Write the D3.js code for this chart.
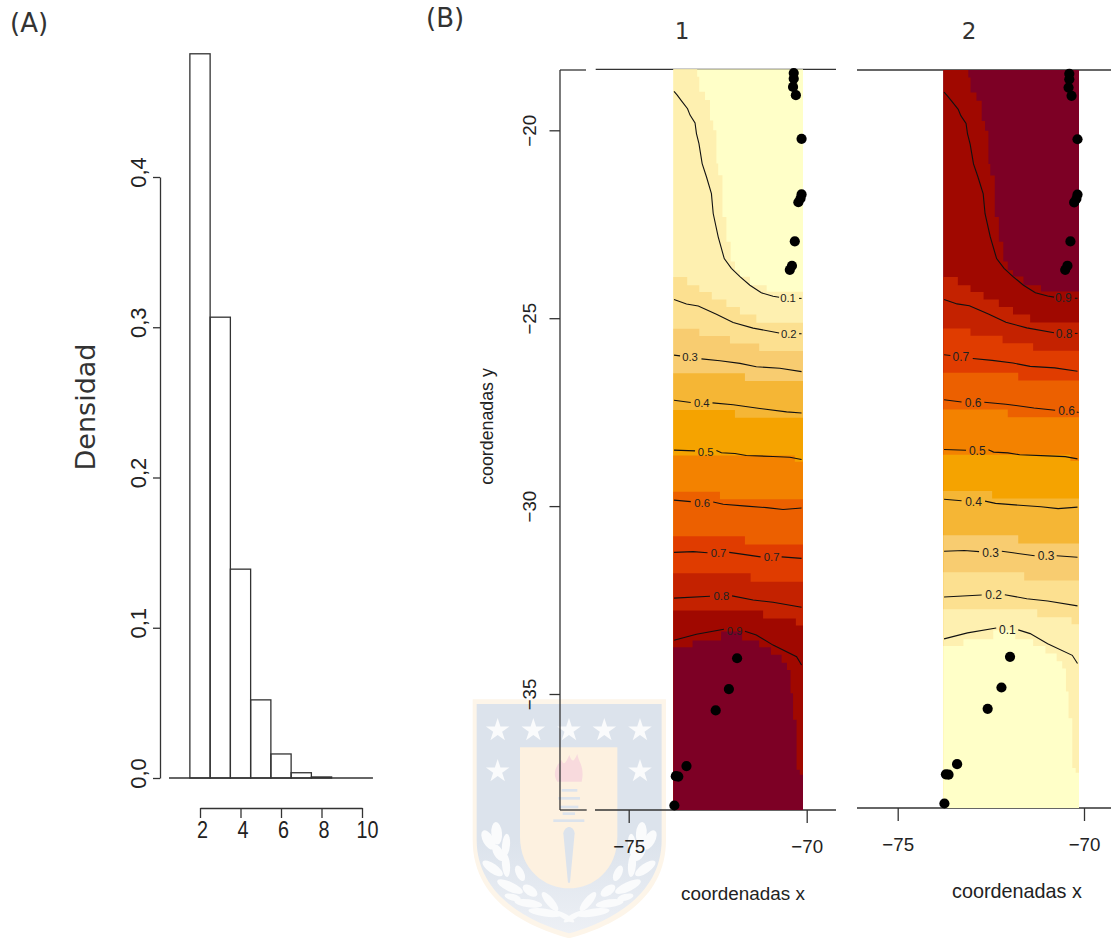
<!DOCTYPE html>
<html lang="en">
<head>
    <meta charset="UTF-8">
    <title>Densidad y coordenadas</title>
    <script src="https://d3js.org/d3.v7.min.js"></script>
    <style>
        body { margin: 0; background: #fff; }
        svg { display: block; font-family: "Liberation Sans", Arial, sans-serif; }
        .axis path, .axis line, .frame { stroke: #333; stroke-width: 1.3; fill: none; }
        .axis text { fill: #222; font-size: 18.7px; }
        .serif-ish { font-family: "DejaVu Sans", sans-serif; fill: #333; }
    </style>
</head>
<body>
    <div id="chart"></div>

    <script>
        // Histogram (A)
        const histBreaks = [1.5, 2.5, 3.5, 4.5, 5.5, 6.5, 7.5, 8.5];
        const histDensity = [0.482, 0.3067, 0.139, 0.052, 0.016, 0.0035, 0.0007];
        const histXTicks = [2, 4, 6, 8, 10];
        const histYTicks = [0, 0.1, 0.2, 0.3, 0.4];

        // Maps (B)
        const mapXTicks = [-75, -70];
        const mapYTicks = [-20, -25, -30, -35];
        const lonLimits = [-73.74, -70.1];
        const latLimits = [-18.37, -38.09];
        const bandColors = ["#FFFFC8", "#FEF0B0", "#FCE090", "#F8CC70", "#F5B635", "#F5A300",
            "#F38200", "#EC6000", "#E03C00", "#C42200", "#A00800", "#7D0025"];

        // Stepped edges between colour bands, [lon, lat]
        const bandEdges = [
            [[-73.74, -18.37], [-73.07, -18.37], [-73.01, -18.57], [-72.85, -18.97], [-72.71, -19.19], [-72.62, -19.73], [-72.53, -19.99], [-72.48, -20.88], [-72.36, -21.19], [-72.25, -22.30], [-72.13, -22.96], [-72.01, -23.49], [-71.87, -23.72], [-71.59, -23.89], [-71.12, -24.12], [-70.89, -24.29], [-70.10, -24.29]],
            [[-73.74, -23.90], [-73.35, -23.90], [-73.01, -24.12], [-72.66, -24.30], [-72.25, -24.50], [-71.87, -24.70], [-71.41, -24.90], [-70.10, -25.12]],
            [[-73.74, -25.28], [-73.01, -25.28], [-72.15, -25.47], [-71.33, -25.67], [-70.10, -25.87]],
            [[-73.74, -26.46], [-71.73, -26.46], [-70.10, -26.67]],
            [[-73.74, -27.44], [-72.01, -27.44], [-70.10, -27.65]],
            [[-73.74, -28.65], [-70.33, -28.65], [-70.10, -28.82]],
            [[-73.74, -29.62], [-72.43, -29.62], [-70.10, -29.82]],
            [[-73.74, -30.80], [-71.73, -30.80], [-70.10, -31.02]],
            [[-73.74, -31.79], [-71.57, -31.79], [-70.10, -32.01]],
            [[-73.74, -32.78], [-71.22, -32.78], [-70.30, -32.99], [-70.10, -33.18]],
            [[-73.74, -33.76], [-73.20, -33.76], [-72.40, -33.58], [-71.81, -33.34], [-71.33, -33.58], [-71.00, -33.76], [-70.70, -33.96], [-70.55, -34.17], [-70.45, -34.36], [-70.38, -34.98], [-70.28, -35.69], [-70.19, -37.02], [-70.10, -37.15]]
        ];

        // Contour lines, broken where the labels sit
        const contour01 = [
            [[-73.72, -18.96], [-73.63, -19.06], [-73.51, -19.21], [-73.34, -19.42], [-73.27, -19.59], [-73.13, -19.80], [-73.09, -20.08], [-73.02, -20.35], [-72.93, -20.88], [-72.81, -21.23], [-72.67, -21.68], [-72.62, -22.21], [-72.48, -22.83], [-72.31, -23.41], [-72.11, -23.67], [-71.87, -23.89], [-71.59, -24.12], [-71.27, -24.32], [-70.94, -24.41], [-70.77, -24.44]],
            [[-70.21, -24.47], [-70.14, -24.47]]
        ];
        const contour02 = [
            [[-73.72, -24.50], [-73.37, -24.62], [-73.04, -24.67], [-72.53, -24.89], [-72.06, -25.11], [-71.50, -25.26], [-70.77, -25.39]],
            [[-70.21, -25.41], [-70.14, -25.41]]
        ];
        const contour03 = [
            [[-73.72, -25.98], [-73.55, -26.00]],
            [[-72.95, -26.08], [-72.43, -26.13], [-71.87, -26.20], [-71.41, -26.29], [-70.75, -26.33], [-70.14, -26.42]]
        ];
        const contour04 = [
            [[-73.72, -27.18], [-73.25, -27.24]],
            [[-72.64, -27.25], [-72.06, -27.30], [-71.31, -27.40], [-70.56, -27.49], [-70.14, -27.52]]
        ];
        const contour04Right = [
            [[-73.72, -27.18], [-73.25, -27.24]],
            [[-72.64, -27.25], [-72.06, -27.30], [-71.31, -27.40], [-70.74, -27.46]],
            [[-70.16, -27.51], [-70.11, -27.52]]
        ];
        const contour05 = [
            [[-73.72, -28.51], [-73.13, -28.53]],
            [[-72.53, -28.52], [-72.39, -28.58], [-72.01, -28.60], [-71.69, -28.65], [-70.94, -28.68], [-70.47, -28.70], [-70.14, -28.76]]
        ];
        const contour06 = [
            [[-73.72, -29.84], [-73.25, -29.88]],
            [[-72.62, -29.89], [-72.34, -29.95], [-71.69, -30.00], [-71.12, -30.04], [-70.66, -30.09], [-70.14, -30.05]]
        ];
        const contour07 = [
            [[-73.72, -31.23], [-73.18, -31.21], [-72.78, -31.24]],
            [[-72.17, -31.23], [-71.87, -31.27], [-71.29, -31.35]],
            [[-70.70, -31.35], [-70.14, -31.39]]
        ];
        const contour08 = [
            [[-73.72, -32.45], [-72.71, -32.40]],
            [[-72.09, -32.39], [-71.50, -32.50], [-70.94, -32.56], [-70.14, -32.69]]
        ];
        const contour09 = [
            [[-73.72, -33.57], [-73.09, -33.41], [-72.32, -33.28]],
            [[-71.73, -33.33], [-71.41, -33.43], [-70.94, -33.70], [-70.28, -34.01], [-70.14, -34.23]]
        ];

        // level, lon, lat
        const contourLabels = [
            [0.1, -70.52, -24.47], [0.2, -70.50, -25.41], [0.3, -73.27, -26.04], [0.4, -72.94, -27.25],
            [0.5, -72.83, -28.55], [0.6, -72.93, -29.91], [0.7, -72.47, -31.26], [0.7, -70.98, -31.35],
            [0.8, -72.39, -32.40], [0.9, -72.02, -33.32]
        ];
        const extraLabelsRight = [[0.4, -70.43, -27.47]];

        // Sampling sites, [lon, lat]
        const sites = [
            [-70.36, -18.47], [-70.36, -18.62], [-70.38, -18.84], [-70.30, -19.06], [-70.14, -20.22],
            [-70.14, -21.70], [-70.17, -21.81], [-70.23, -21.91], [-70.33, -22.95], [-70.41, -23.60],
            [-70.47, -23.71], [-71.95, -34.05], [-72.18, -34.87], [-72.55, -35.44], [-73.37, -36.92],
            [-73.67, -37.19], [-73.60, -37.20], [-73.71, -37.97]
        ];

        const svg = d3.select("#chart").append("svg")
            .attr("width", 1111)
            .attr("height", 938);

        // Watermark shield, sits behind everything
        const fade = svg.append("defs").append("linearGradient")
            .attr("id", "crestFade")
            .attr("x1", 0).attr("x2", 0).attr("y1", 0).attr("y2", 1);
        fade.append("stop").attr("offset", "0.6").attr("stop-color", "#DCE3EC");
        fade.append("stop").attr("offset", "1").attr("stop-color", "#EDF0F5");

        const crest = svg.append("g")
            .attr("transform", "translate(470,690) scale(0.3333)");
        crest.append("path")
            .attr("d", "M8,28 L588,28 L588,450 C588,640 410,715 297,745 C185,715 8,640 8,450 Z")
            .attr("fill", "#FDF5E9");
        crest.append("path")
            .attr("d", "M20,42 L575,42 L575,450 C575,625 400,702 297,730 C195,702 20,625 20,450 Z")
            .attr("fill", "url(#crestFade)");
        crest.append("path")
            .attr("d", "M150,172 L442,172 L442,440 C442,540 370,595 297,595 C225,595 150,540 150,440 Z")
            .attr("fill", "#FDF1E0");
        crest.append("path")
            .attr("d", "M262,275 C245,250 260,225 275,210 C280,225 285,225 298,195 C305,215 310,220 322,192 C325,215 345,230 335,275 Z")
            .attr("fill", "#F8DADD");
        crest.selectAll("rect.bar-torch")
            .data([[275, 297, 47], [265, 321, 65], [270, 347, 55], [278, 367, 37], [250, 388, 93]])
            .enter()
            .append("rect")
            .attr("x", d => d[0])
            .attr("y", d => d[1])
            .attr("width", d => d[2])
            .attr("height", 8)
            .attr("fill", "#DCE3EC");
        crest.append("path")
            .attr("d", "M280,430 C285,405 310,405 314,430 L300,578 L294,578 Z")
            .attr("fill", "#DCE3EC");
        const starXs = [83, 190, 297, 403, 510, 83, 510];
        const starYs = [117, 117, 117, 117, 117, 240, 240];
        crest.selectAll("path.star")
            .data(starXs)
            .enter()
            .append("path")
            .attr("class", "star")
            .attr("d", d3.symbol(d3.symbolStar).size(1550))
            .attr("transform", (d, i) => `translate(${d},${starYs[i] + 4})`)
            .attr("fill", "#FAFBFC");
        const leaves = [[80, 430, 16, 34, -5], [55, 450, 16, 32, -30], [108, 465, 12, 34, 5], [85, 488, 14, 28, -30],
            [108, 525, 12, 36, -5], [68, 535, 36, 14, 35], [150, 550, 12, 25, -25], [120, 590, 42, 14, 25],
            [180, 602, 25, 14, 35], [128, 622, 25, 10, 15], [175, 640, 42, 12, 8], [240, 635, 36, 12, 50],
            [225, 668, 50, 12, 8], [285, 680, 32, 8, 30]];
        [1, -1].forEach(side => {
            crest.append("g")
                .attr("transform", side < 0 ? "translate(594,0) scale(-1,1)" : null)
                .selectAll("ellipse")
                .data(leaves)
                .enter()
                .append("ellipse")
                .attr("rx", d => d[2])
                .attr("ry", d => d[3])
                .attr("transform", d => `translate(${d[0]},${d[1]}) rotate(${d[4]})`)
                .attr("fill", "#FAFBFC");
        });

        // Panel letters
        svg.append("text").attr("class", "serif-ish").attr("x", 10).attr("y", 32).attr("font-size", 26).text("(A)");
        svg.append("text").attr("class", "serif-ish").attr("x", 426).attr("y", 27).attr("font-size", 26).text("(B)");

        // Histogram
        const histX = d3.scaleLinear().domain([2, 10]).range([200, 362]);
        const histY = d3.scaleLinear().domain([0, 0.4]).range([778, 177]);

        svg.append("g")
            .selectAll("rect")
            .data(histDensity)
            .enter()
            .append("rect")
            .attr("x", (d, i) => histX(histBreaks[i]))
            .attr("y", d => histY(d))
            .attr("width", (d, i) => histX(histBreaks[i + 1]) - histX(histBreaks[i]))
            .attr("height", d => histY(0) - histY(d))
            .attr("fill", "none")
            .attr("stroke", "#333")
            .attr("stroke-width", 1.3);

        svg.append("line")
            .attr("class", "frame")
            .attr("x1", histX(0.47)).attr("x2", histX(10.54))
            .attr("y1", histY(0)).attr("y2", histY(0));

        const histXAxis = svg.append("g")
            .attr("class", "axis")
            .attr("transform", "translate(0,808)")
            .call(d3.axisBottom(histX).tickValues(histXTicks).tickSize(10).tickSizeOuter(0).tickFormat(d => d));
        histXAxis.selectAll("text")
            .attr("y", 30)
            .attr("dy", 0)
            .attr("dx", d => d === 10 ? 5 : 2)
            .style("font-size", "23px")
            .attr("textLength", d => d === 10 ? 22 : 11)
            .attr("lengthAdjust", "spacingAndGlyphs");

        const histYAxis = svg.append("g")
            .attr("class", "axis")
            .attr("transform", "translate(160,0)")
            .call(d3.axisLeft(histY).tickValues(histYTicks).tickSize(7).tickSizeOuter(0)
                .tickFormat(d => d.toFixed(1).replace(".", ",")));
        histYAxis.selectAll("text")
            .attr("x", 0)
            .attr("dy", 0)
            .attr("text-anchor", "middle")
            .attr("transform", "translate(-14,-5) rotate(-90)")
            .style("font-size", "22px");

        svg.append("text")
            .attr("class", "serif-ish")
            .attr("transform", "translate(95,407) rotate(-90)")
            .attr("text-anchor", "middle")
            .attr("font-size", 27)
            .text("Densidad");

        // One map panel
        function drawMap(opts) {
            const x = d3.scaleLinear().domain(lonLimits).range(opts.xRange);
            const y = d3.scaleLinear().domain(latLimits).range(opts.yRange);
            const g = svg.append("g");

            // frame lines and x axis
            opts.frameLines.forEach(f => {
                g.append("line").attr("class", "frame")
                    .attr("x1", f[0]).attr("x2", f[1]).attr("y1", f[2]).attr("y2", f[2]);
            });
            const xAxis = g.append("g")
                .attr("class", "axis")
                .attr("transform", `translate(0,${opts.yRange[1]})`)
                .call(d3.axisBottom(opts.xTickScale).tickValues(mapXTicks).tickSize(13).tickSizeOuter(0)
                    .tickFormat(d => "\u2212" + Math.abs(d)));
            xAxis.select(".domain").remove();
            xAxis.selectAll("text").attr("y", 43).attr("dy", 0);

            // colour bands, each one painted from its edge down to the bottom
            g.append("rect")
                .attr("x", x(lonLimits[0]))
                .attr("y", y(latLimits[0]))
                .attr("width", x(lonLimits[1]) - x(lonLimits[0]))
                .attr("height", y(latLimits[1]) - y(latLimits[0]))
                .attr("fill", opts.colors[0]);
            const stepLine = d3.line().x(d => x(d[0])).y(d => y(d[1])).curve(d3.curveStepBefore);
            bandEdges.forEach((edge, i) => {
                const pts = edge.concat([[lonLimits[1], latLimits[1]], [lonLimits[0], latLimits[1]]]);
                g.append("path")
                    .attr("d", stepLine(pts) + "Z")
                    .attr("fill", opts.colors[i + 1]);
            });

            // contours
            const contourLine = d3.line().x(d => x(d[0])).y(d => y(d[1]));
            opts.contours.forEach(c => {
                c.forEach(seg => {
                    g.append("path")
                        .attr("d", contourLine(seg))
                        .attr("fill", "none")
                        .attr("stroke", "#111")
                        .attr("stroke-width", 1.1);
                });
            });
            g.selectAll("text.level")
                .data(opts.labels)
                .enter()
                .append("text")
                .attr("class", "level")
                .attr("x", d => x(d[1]))
                .attr("y", d => y(d[2]))
                .attr("dy", "0.35em")
                .attr("text-anchor", "middle")
                .attr("font-size", opts.labelSize)
                .attr("fill", "#222")
                .text(d => opts.levelText(d[0]));

            g.selectAll("circle")
                .data(sites)
                .enter()
                .append("circle")
                .attr("cx", d => x(d[0]))
                .attr("cy", d => y(d[1]))
                .attr("r", 5.1)
                .attr("fill", "#000");

            g.append("text")
                .attr("x", opts.xTitleX)
                .attr("y", opts.xTitleY)
                .attr("text-anchor", "middle")
                .attr("font-size", opts.xTitleSize)
                .attr("fill", "#222")
                .text("coordenadas x");

            g.append("text")
                .attr("class", "serif-ish")
                .attr("x", opts.titleX)
                .attr("y", 39)
                .attr("text-anchor", "middle")
                .attr("font-size", 23)
                .text(opts.title);

            return { x, y, g };
        }

        const contoursLeft = [contour01, contour02, contour03, contour04, contour05, contour06, contour07, contour08, contour09];
        const contoursRight = [contour01, contour02, contour03, contour04Right, contour05, contour06, contour07, contour08, contour09];

        drawMap({
            xRange: [673.3, 803],
            yRange: [69.3, 810],
            xTickScale: d3.scaleLinear().domain([-75, -70]).range([628.7, 806.7]),
            colors: bandColors,
            contours: contoursLeft,
            labels: contourLabels,
            labelSize: 11.3,
            levelText: d => d.toFixed(1),
            frameLines: [[560, 586, 70], [595.7, 836, 69.3], [560, 586.7, 810], [595, 836, 810]],
            xTitleX: 743,
            xTitleY: 900,
            xTitleSize: 18.9,
            title: "1",
            titleX: 682
        });

        drawMap({
            xRange: [943.3, 1079],
            yRange: [70, 808],
            xTickScale: d3.scaleLinear().domain([-75, -70]).range([897.7, 1084]),
            colors: bandColors.slice().reverse(),
            contours: contoursRight,
            labels: contourLabels.concat(extraLabelsRight),
            labelSize: 12,
            levelText: d => (1 - d).toFixed(1),
            frameLines: [[857, 1111, 70], [857, 1111, 808]],
            xTitleX: 1017,
            xTitleY: 898,
            xTitleSize: 19.8,
            title: "2",
            titleX: 969
        });

        // y axis only on the left map
        const leftYAxis = svg.append("g")
            .attr("class", "axis")
            .attr("transform", "translate(560,0)")
            .call(d3.axisLeft(d3.scaleLinear().domain([-20, -35]).range([130.3, 694]))
                .tickValues(mapYTicks).tickSize(10.5).tickSizeOuter(0)
                .tickFormat(d => "\u2212" + Math.abs(d)));
        leftYAxis.select(".domain").attr("d", "M0,70V810");
        leftYAxis.selectAll("text")
            .attr("x", 0)
            .attr("dy", 0)
            .attr("text-anchor", "middle")
            .attr("transform", "translate(-24.3,0) rotate(-90)");

        svg.append("text")
            .attr("transform", "translate(493,426.5) rotate(-90)")
            .attr("text-anchor", "middle")
            .attr("font-size", 17.8)
            .attr("fill", "#222")
            .text("coordenadas y");
    </script>
</body>
</html>
